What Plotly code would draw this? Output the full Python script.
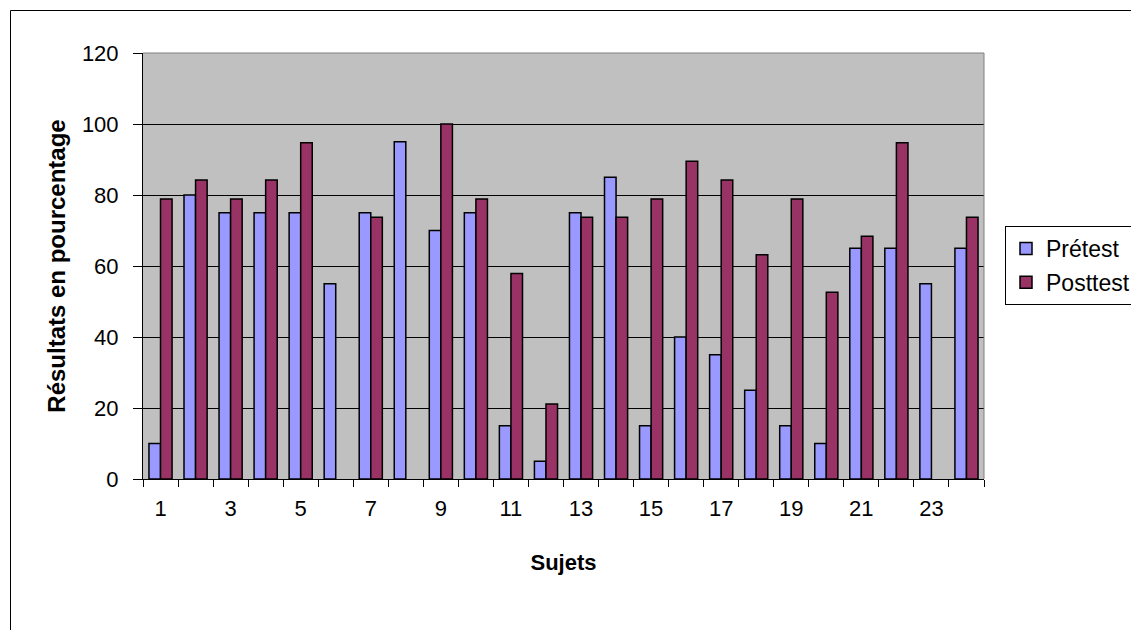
import plotly.graph_objects as go

subjects = list(range(1, 25))
pretest = [10, 80, 75, 75, 75, 55, 75, 95, 70, 75, 15, 5, 75, 85, 15, 40, 35, 25, 15, 10, 65, 65, 55, 65]
posttest = [78.9, 84.2, 78.9, 84.2, 94.7, None, 73.7, None, 100, 78.9, 57.9, 21.1, 73.7, 73.7,
            78.9, 89.5, 84.2, 63.2, 78.9, 52.6, 68.4, 94.7, None, 73.7]
x_ticks = list(range(1, 25, 2))

FONT = "Liberation Sans, Arial, sans-serif"

fig = go.Figure()
fig.add_trace(go.Bar(x=subjects, y=pretest, name="Prétest", legendgroup="a",
                     marker=dict(color="#9999FF", line=dict(color="black", width=1.5))))
fig.add_trace(go.Bar(x=subjects, y=posttest, name="Posttest", legendgroup="b",
                     marker=dict(color="#993366", line=dict(color="black", width=1.5))))

W, H = 1131, 630
L, R, T, B = 143, 147, 53, 151
pw, ph = W - L - R, H - T - B

def px(x):
    return (x - L) / pw

def py(y):
    return (H - B - y) / ph

fig.update_layout(
    width=W, height=H,
    margin=dict(l=L, r=R, t=T, b=B, pad=0),
    paper_bgcolor="white",
    plot_bgcolor="#C0C0C0",
    barmode="group",
    bargap=0.34,
    bargroupgap=0,
    font=dict(family=FONT, size=22, color="black"),
    xaxis=dict(
        range=[0.5, 24.5],
        tickmode="array", tickvals=x_ticks, ticktext=[str(v) for v in x_ticks],
        ticks="outside", ticklen=10, tickcolor="rgba(0,0,0,0)",
        showgrid=False, zeroline=False,
        showline=True, linecolor="black", linewidth=1,
        tickfont=dict(size=22),
        minor=dict(tickmode="linear", tick0=0.5, dtick=1, ticks="outside",
                   ticklen=7, tickcolor="black", tickwidth=1, showgrid=False),
        title=dict(text="Sujets", font=dict(size=22, weight="bold"), standoff=34),
    ),
    yaxis=dict(
        range=[0, 120], tickmode="linear", tick0=0, dtick=20,
        ticks="outside", ticklen=9, tickcolor="black",
        ticklabelstandoff=10,
        showgrid=True, gridcolor="black", gridwidth=1,
        zeroline=False, showline=True, linecolor="black", linewidth=1,
        tickfont=dict(size=22),
        title=dict(text="Résultats en pourcentage", font=dict(size=24, weight="bold"), standoff=9),
    ),
    legend=dict(
        xref="container", yref="container",
        x=1005 / W, xanchor="left", y=1 - 226 / H, yanchor="top",
        bordercolor="black", borderwidth=1, bgcolor="white",
        font=dict(size=23), traceorder="grouped", tracegroupgap=1,
    ),
    shapes=[
        dict(type="line", xref="paper", yref="paper", x0=0, x1=1, y0=1, y1=1,
             line=dict(color="#808080", width=1), layer="above"),
        dict(type="line", xref="paper", yref="paper", x0=1, x1=1, y0=0, y1=1,
             line=dict(color="#808080", width=1), layer="above"),
        dict(type="rect", xref="paper", yref="paper",
             x0=px(10.5), x1=px(1145), y0=py(645), y1=py(10.5),
             line=dict(color="black", width=1), fillcolor="rgba(0,0,0,0)", layer="above"),
    ],
    showlegend=True,
)

fig.write_html("out.html", config={"displayModeBar": False},
               post_script="document.body.style.margin='0';document.body.style.overflow='hidden';")
